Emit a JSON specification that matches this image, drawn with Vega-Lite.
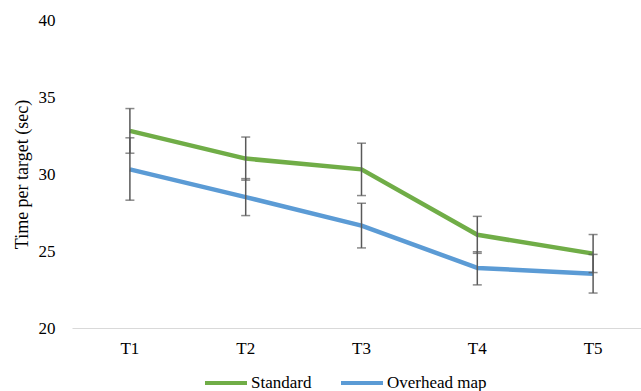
{
  "$schema": "https://vega.github.io/schema/vega-lite/v6.json",
  "autosize": "none",
  "width": 571,
  "height": 308,
  "padding": {"left": 70, "top": 20, "right": 0, "bottom": 63},
  "background": "white",
  "config": {
    "view": {"stroke": null},
    "font": "Liberation Serif",
    "axis": {"labelFont": "Liberation Serif", "titleFont": "Liberation Serif", "labelColor": "#000000", "titleColor": "#000000", "labelFontSize": 17, "titleFontSize": 18, "titleFontWeight": "normal"},
    "legend": {"labelFont": "Liberation Serif", "labelFontSize": 17, "labelColor": "#000000"}
  },
  "data": {
    "values": [
      {"trial": "T1", "group": "Standard", "mean": 32.8, "lo": 31.35, "hi": 34.25},
      {"trial": "T2", "group": "Standard", "mean": 31.0, "lo": 29.6, "hi": 32.4},
      {"trial": "T3", "group": "Standard", "mean": 30.3, "lo": 28.6, "hi": 32.0},
      {"trial": "T4", "group": "Standard", "mean": 26.05, "lo": 24.85, "hi": 27.25},
      {"trial": "T5", "group": "Standard", "mean": 24.83, "lo": 23.6, "hi": 26.07},
      {"trial": "T1", "group": "Overhead map", "mean": 30.3, "lo": 28.3, "hi": 32.35},
      {"trial": "T2", "group": "Overhead map", "mean": 28.5, "lo": 27.3, "hi": 29.7},
      {"trial": "T3", "group": "Overhead map", "mean": 26.65, "lo": 25.2, "hi": 28.1},
      {"trial": "T4", "group": "Overhead map", "mean": 23.9, "lo": 22.8, "hi": 24.95},
      {"trial": "T5", "group": "Overhead map", "mean": 23.53, "lo": 22.27, "hi": 24.78}
    ]
  },
  "encoding": {
    "x": {
      "field": "trial", "type": "nominal",
      "scale": {"type": "band", "range": [2, 581], "paddingInner": 0, "paddingOuter": 0},
      "axis": {"title": null, "labelAngle": 0, "ticks": false, "domainColor": "#d9d9d9", "domainWidth": 1, "labelPadding": 12, "grid": false, "labelFont": "Liberation Serif", "labelFontSize": 17}
    }
  },
  "layer": [
    {
      "mark": {"type": "line", "strokeWidth": 4.5, "strokeJoin": "round", "strokeCap": "butt"},
      "encoding": {
        "y": {
          "field": "mean", "type": "quantitative",
          "scale": {"domain": [20, 40], "nice": false, "zero": false},
          "axis": {"values": [20, 25, 30, 35, 40], "title": "Time per target (sec)", "grid": false, "domain": false, "ticks": false, "labelPadding": 15, "titlePadding": 7, "labelFont": "Liberation Serif", "titleFont": "Liberation Serif", "labelFontSize": 17, "titleFontSize": 18}
        },
        "color": {
          "field": "group", "type": "nominal",
          "scale": {"domain": ["Standard", "Overhead map"], "range": ["#70AD47", "#5B9BD5"]},
          "legend": {
            "title": null, "orient": "none", "direction": "horizontal", "legendX": 133, "legendY": 340,
            "symbolType": "stroke", "symbolSize": 1764, "symbolStrokeWidth": 4, "labelOffset": 2, "columnPadding": 21,
            "labelFont": "Liberation Serif", "labelFontSize": 17
          }
        }
      }
    },
    {
      "mark": {"type": "errorbar", "ticks": {"size": 9, "color": "#595959", "thickness": 1.5}, "rule": {"color": "#595959", "strokeWidth": 1.5}},
      "encoding": {
        "y": {"field": "lo", "type": "quantitative", "title": "Time per target (sec)"},
        "y2": {"field": "hi"}
      }
    }
  ]
}
